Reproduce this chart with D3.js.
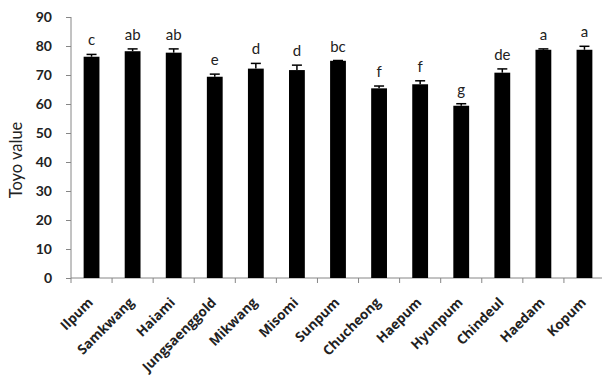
<!DOCTYPE html>
<html>
<head>
<meta charset="utf-8">
<script src="https://cdn.jsdelivr.net/npm/d3@7"></script>
<style>
  html, body { margin: 0; padding: 0; background: #fff; }
  svg { display: block; }
</style>
</head>
<body>
<svg id="chart" width="602" height="375"></svg>
<script>
// Cultivars and their mean Toyo values with standard errors
const cultivars = ["Ilpum", "Samkwang", "Haiami", "Jungsaenggold", "Mikwang", "Misomi", "Sunpum",
                   "Chucheong", "Haepum", "Hyunpum", "Chindeul", "Haedam", "Kopum"];
const toyoMean = [76.3, 78.2, 77.7, 69.4, 72.2, 71.7, 74.9, 65.4, 66.8, 59.4, 70.8, 78.7, 78.7];
const toyoErr  = [0.8, 0.8, 1.3, 0.9, 1.8, 1.7, 0.1, 0.8, 1.2, 0.7, 1.3, 0.3, 1.2];
// Significance groups (Duncan's test)
const groupLetters = ["c", "ab", "ab", "e", "d", "d", "bc", "f", "f", "g", "de", "a", "a"];
const yTicks = [0, 10, 20, 30, 40, 50, 60, 70, 80, 90];

const svg = d3.select("#chart");
const plotLeft = 71, plotRight = 605, plotTop = 17, plotBottom = 278;
const axisColor = "#868686";

const x = d3.scaleBand().domain(cultivars).range([plotLeft, plotRight])
  .paddingInner(0.615).paddingOuter(0.3075);
const y = d3.scaleLinear().domain([0, 90]).range([plotBottom, plotTop]);

// Y axis
const yAxis = svg.append("g").attr("transform", `translate(${plotLeft},0)`)
  .call(d3.axisLeft(y).tickValues(yTicks).tickSize(5).tickPadding(14));
yAxis.select(".domain").attr("stroke", axisColor).attr("d", `M0,${plotBottom}V${plotTop}`);
yAxis.selectAll(".tick line").attr("stroke", axisColor);
yAxis.selectAll(".tick text")
  .attr("fill", "#222").attr("font-family", "Lato, 'Open Sans', sans-serif")
  .attr("font-weight", "bold").attr("font-size", 14);

// X axis with ticks on category boundaries
const xAxis = svg.append("g").attr("transform", `translate(0,${plotBottom})`)
  .call(d3.axisBottom(x).tickSize(0).tickFormat(""));
xAxis.select(".domain").attr("stroke", axisColor).attr("d", `M${plotLeft},0H${plotRight}`);
const boundaries = d3.range(cultivars.length + 1).map(i => plotLeft + i * x.step());
xAxis.selectAll(".bound").data(boundaries).join("line")
  .attr("class", "bound")
  .attr("x1", d => d).attr("x2", d => d).attr("y1", 0).attr("y2", 5)
  .attr("stroke", axisColor);

// Bars
svg.append("g").selectAll("rect").data(cultivars).join("rect")
  .attr("x", d => x(d))
  .attr("width", x.bandwidth())
  .attr("y", (d, i) => y(toyoMean[i]))
  .attr("height", (d, i) => y(0) - y(toyoMean[i]))
  .attr("fill", "#000");

// Error bars (upper half)
const eb = svg.append("g").attr("stroke", "#000").attr("stroke-width", 1.5);
cultivars.forEach((c, i) => {
  const cx = x(c) + x.bandwidth() / 2;
  const yTop = y(toyoMean[i] + toyoErr[i]);
  eb.append("line").attr("x1", cx).attr("x2", cx)
    .attr("y1", y(toyoMean[i])).attr("y2", yTop);
  eb.append("line").attr("x1", cx - 5).attr("x2", cx + 5)
    .attr("y1", yTop).attr("y2", yTop);
});

// Group letters
svg.append("g").selectAll("text").data(cultivars).join("text")
  .attr("x", d => x(d) + x.bandwidth() / 2)
  .attr("y", (d, i) => y(toyoMean[i] + toyoErr[i]) - 9)
  .attr("text-anchor", "middle")
  .attr("font-family", "Lato, 'Open Sans', sans-serif")
  .attr("font-size", 15).attr("fill", "#222")
  .text((d, i) => groupLetters[i]);

// Category labels, rotated
svg.append("g").selectAll("text").data(cultivars).join("text")
  .attr("transform", d => `translate(${x(d) + x.bandwidth() / 2 - 1},${plotBottom + 22}) rotate(-45)`)
  .attr("text-anchor", "end")
  .attr("dy", "0.35em")
  .attr("font-family", "'Open Sans', sans-serif")
  .attr("font-weight", "bold").attr("font-size", 13.5).attr("fill", "#222")
  .text(d => d);

// Y axis title
svg.append("text")
  .attr("transform", "translate(22,160) rotate(-90)")
  .attr("text-anchor", "middle")
  .attr("font-family", "Lato, 'Open Sans', sans-serif")
  .attr("font-size", 16.5).attr("fill", "#222")
  .text("Toyo value");
</script>
</body>
</html>
